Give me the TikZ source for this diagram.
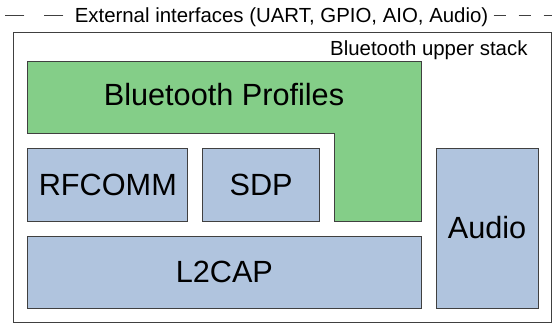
\documentclass[tikz,border=0pt]{standalone}
\usepackage{fontspec}
\setmainfont{Liberation Sans}
\usetikzlibrary{positioning}
\definecolor{profgreen}{RGB}{132,206,136}
\definecolor{stackblue}{RGB}{176,196,222}
\definecolor{edgegray}{RGB}{64,64,64}
\tikzstyle{layer} = [rectangle, draw=edgegray, fill=stackblue, line width=0.75pt,
    inner sep=0pt, outer sep=0pt, font=\fontsize{23}{27}\selectfont]
\tikzstyle{caption} = [inner sep=0pt, font=\fontsize{15.3}{18}\selectfont]

\begin{document}
\begin{tikzpicture}[x=0.75pt,y=-0.75pt,node distance=11.25pt,line width=0.75pt]

  \useasboundingbox (0,0) rectangle (552,326);
  \fill[white] (0,0) rectangle (552,326);
  \draw[edgegray] (13.3,32) rectangle (551,322);

  \node[caption,anchor=base]      (ext)   at (281.5,22) {External interfaces (UART, GPIO, AIO, Audio)};
  \node[caption,anchor=base east] (upper) at (528,55)   {Bluetooth upper stack};
  \coordinate (extL) at (0,15);
  \coordinate (extR) at (552,15);
  \draw[edgegray,dash pattern=on 14.25pt off 15pt] (ext.west |- extL) ++(-11,0) -- (extL);
  \draw[edgegray,dash pattern=on 9pt off 9.75pt]   (ext.east |- extR) ++(5,0) -- (extR);

  \draw[draw=edgegray,fill=profgreen] (27.7,61) -- (421,61) -- (421,221) -- (334,221)
        -- (334,133) -- (27.7,133) -- cycle;
  \node[inner sep=0pt,font=\fontsize{23}{27}\selectfont] (profiles) at (224,95) {Bluetooth Profiles};

  \node[layer,minimum width=120.2pt,minimum height=54.75pt,anchor=north west] (rfcomm) at (27.7,148) {RFCOMM};
  \node[layer,minimum width=87.2pt,minimum height=54.75pt] (sdp) [right=of rfcomm] {SDP};
  \node[layer,minimum width=295pt,minimum height=54pt] (l2cap) [below=of rfcomm.south west,anchor=north west] {L2CAP};
  \node[layer,minimum width=76.5pt,minimum height=120pt] (audio) [right=of l2cap.south east,anchor=south west] {Audio};
\end{tikzpicture}
\end{document}
